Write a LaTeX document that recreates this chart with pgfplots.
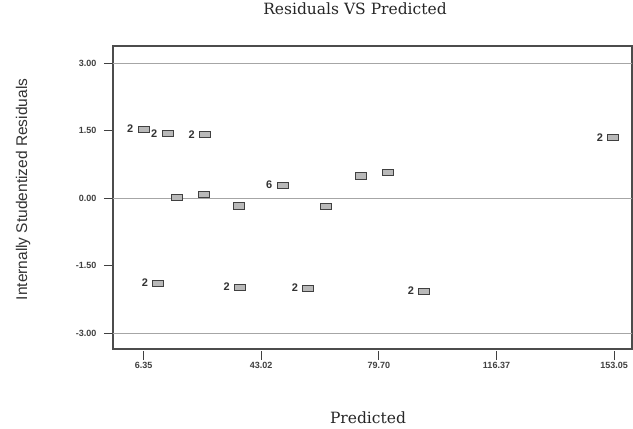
\documentclass[border=0pt]{standalone}
\usepackage{pgfplots}
\pgfplotsset{compat=1.18}
\usepackage{fontspec}
\setmainfont{DejaVu Serif}
\newfontfamily\lsans{Liberation Sans}

\begin{document}
\begin{tikzpicture}
\useasboundingbox (-113pt,-80pt) rectangle (520pt,349pt);
\begin{axis}[
  at={(0,0)}, anchor=south west, scale only axis,
  width=519pt, height=303pt,
  xmin=-3.16, xmax=158.6, ymin=-3.349, ymax=3.384,
  axis line style={black!70, line width=1.6pt},
  xtick={6.35,43.02,79.70,116.37,153.05},
  xticklabels={6.35,43.02,79.70,116.37,153.05},
  ytick={-3,-1.5,0,1.5,3},
  yticklabels={-3.00,-1.50,0.00,1.50,3.00},
  xtick pos=bottom, ytick pos=left,
  tick align=outside,
  major tick length=9pt,
  xtick style={black!75, line width=1.2pt, yshift=-2pt},
  ytick style={black!75, line width=1.2pt},
  ticklabel style={font=\lsans\bfseries\fontsize{9}{10}\selectfont, text=black!75},
  xticklabel style={yshift=-1pt},
  yticklabel style={xshift=-4pt},
  title={Residuals VS Predicted},
  title style={at={(0.4663,1.1026)}, anchor=center, font=\fontsize{15.5}{17}\selectfont, text=black!85},
  xlabel={Predicted},
  xlabel style={at={(0.4913,-0.2252)}, anchor=center, font=\fontsize{15.5}{17}\selectfont, text=black!85},
  ylabel={Internally Studentized Residuals},
  ylabel style={at={(-0.1734,0.5265)}, anchor=center, font=\lsans\fontsize{15.5}{17}\selectfont, text=black!80},
  every node near coord/.append style={anchor=east, xshift=-6.5pt, yshift=0.5pt, font=\lsans\bfseries\fontsize{11}{12}\selectfont, text=black!80},
]
% reference lines
\addplot[gray!70, line width=1.5pt, forget plot] coordinates {(-3.16,3) (158.6,3)};
\addplot[gray!70, line width=1.5pt, forget plot] coordinates {(-3.16,0) (158.6,0)};
\addplot[gray!70, line width=1.5pt, forget plot] coordinates {(-3.16,-3) (158.6,-3)};
% unlabeled points
\addplot[only marks, mark=square*, mark size=3.2pt,
  mark options={xscale=1.7, fill=gray!55, draw=black!75, line width=1.1pt}]
  coordinates {
  (16.79,0.022) (25.11,0.08) (36.03,-0.171) (63.33,-0.178) (74.15,0.496) (82.47,0.578)
  };
% labeled points (repeat count)
\addplot[only marks, mark=square*, mark size=3.2pt,
  mark options={xscale=1.7, fill=gray!55, draw=black!75, line width=1.1pt},
  point meta=explicit symbolic, nodes near coords]
  coordinates {
  (6.41,1.527) [2]
  (13.89,1.436) [2]
  (25.52,1.413) [2]
  (49.74,0.28) [6]
  (152.79,1.347) [2]
  (10.96,-1.889) [2]
  (36.43,-1.978) [2]
  (57.72,-2.0) [2]
  (93.88,-2.067) [2]
  };
\end{axis}
\end{tikzpicture}
\end{document}
